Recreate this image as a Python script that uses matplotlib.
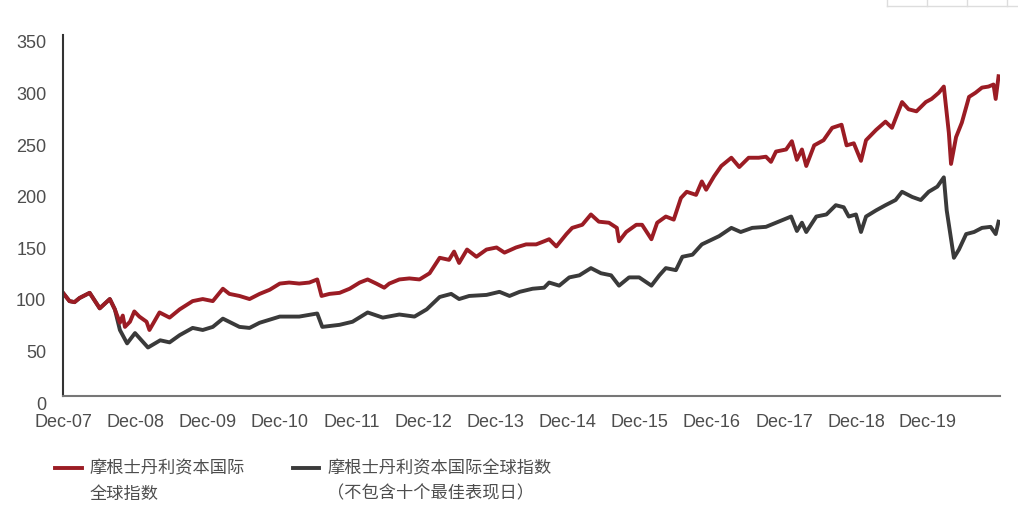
import matplotlib
matplotlib.use('Agg')
import matplotlib.pyplot as plt
import matplotlib.transforms as mtransforms
from matplotlib.lines import Line2D

# index level (x in decimal years)
red_x = [2007.91, 2008.00, 2008.07, 2008.14, 2008.28, 2008.42, 2008.56, 2008.63, 2008.70, 2008.74,
         2008.77, 2008.84, 2008.90, 2008.97, 2009.07, 2009.11, 2009.25, 2009.39, 2009.53, 2009.71,
         2009.85, 2009.99, 2010.13, 2010.22, 2010.36, 2010.50, 2010.64, 2010.78, 2010.92, 2011.05,
         2011.19, 2011.33, 2011.44, 2011.50, 2011.61, 2011.75, 2011.89, 2012.03, 2012.14, 2012.26,
         2012.37, 2012.44, 2012.58, 2012.72, 2012.86, 2013.00, 2013.14, 2013.27, 2013.34, 2013.41,
         2013.52, 2013.65, 2013.79, 2013.93, 2014.04, 2014.20, 2014.34, 2014.48, 2014.59, 2014.66,
         2014.76, 2014.90, 2014.98, 2015.12, 2015.24, 2015.35, 2015.49, 2015.60, 2015.63, 2015.73,
         2015.87, 2015.95, 2016.08, 2016.16, 2016.28, 2016.39, 2016.49, 2016.57, 2016.70, 2016.78,
         2016.84, 2016.95, 2017.05, 2017.19, 2017.30, 2017.43, 2017.57, 2017.67, 2017.74, 2017.81,
         2017.95, 2018.03, 2018.10, 2018.17, 2018.23, 2018.34, 2018.47, 2018.59, 2018.72, 2018.79,
         2018.89, 2018.99, 2019.06, 2019.20, 2019.33, 2019.42, 2019.56, 2019.65, 2019.76, 2019.89,
         2019.97, 2020.07, 2020.14, 2020.21, 2020.24, 2020.31, 2020.39, 2020.49, 2020.58, 2020.67,
         2020.76, 2020.83, 2020.86, 2020.90]
red_y = [100, 92, 91, 95, 100, 85, 94, 84, 71, 78,
         67, 72, 82, 77, 72, 64, 81, 76, 84, 92,
         94, 92, 104, 99, 97, 94, 99, 103, 109, 110,
         109, 110, 113, 97, 99, 100, 104, 110, 113, 109,
         105, 109, 113, 114, 113, 119, 134, 132, 140, 129,
         142, 135, 142, 144, 139, 144, 147, 147, 150, 152,
         145, 157, 163, 166, 176, 169, 168, 163, 150, 159,
         166, 166, 152, 168, 174, 171, 192, 198, 195, 208,
         200, 213, 223, 231, 222, 231, 231, 232, 227, 237,
         239, 247, 229, 239, 223, 243, 248, 260, 263, 243,
         245, 228, 248, 258, 266, 260, 285, 278, 276, 285,
         288, 294, 300, 255, 225, 251, 265, 290, 294, 299,
         300, 302, 288, 310]

dark_x = [2007.91, 2008.00, 2008.07, 2008.14, 2008.28, 2008.42, 2008.56, 2008.63, 2008.70, 2008.80,
          2008.91, 2009.09, 2009.26, 2009.39, 2009.53, 2009.71, 2009.85, 2009.99, 2010.13, 2010.36,
          2010.50, 2010.64, 2010.78, 2010.92, 2011.19, 2011.44, 2011.51, 2011.75, 2011.93, 2012.14,
          2012.35, 2012.58, 2012.79, 2012.96, 2013.14, 2013.30, 2013.41, 2013.55, 2013.79, 2013.97,
          2014.11, 2014.25, 2014.43, 2014.59, 2014.66, 2014.80, 2014.94, 2015.08, 2015.24, 2015.38,
          2015.52, 2015.63, 2015.77, 2015.91, 2016.08, 2016.19, 2016.28, 2016.42, 2016.51, 2016.65,
          2016.78, 2017.02, 2017.19, 2017.32, 2017.48, 2017.67, 2017.81, 2018.02, 2018.10, 2018.17,
          2018.23, 2018.37, 2018.51, 2018.64, 2018.75, 2018.82, 2018.92, 2018.99, 2019.06, 2019.20,
          2019.33, 2019.47, 2019.56, 2019.70, 2019.82, 2019.93, 2020.05, 2020.14, 2020.18, 2020.28,
          2020.35, 2020.45, 2020.56, 2020.67, 2020.79, 2020.86, 2020.90]
dark_y = [100, 92, 91, 95, 100, 85, 94, 84, 64, 51,
          61, 47, 54, 52, 59, 66, 64, 67, 75, 67,
          66, 71, 74, 77, 77, 80, 67, 69, 72, 81,
          76, 79, 77, 84, 96, 99, 94, 97, 98, 101,
          97, 101, 104, 105, 110, 107, 115, 117, 124, 119,
          117, 107, 115, 115, 107, 117, 124, 122, 135, 137,
          147, 155, 163, 159, 163, 164, 168, 174, 160, 168,
          159, 174, 176, 185, 183, 174, 176, 159, 174, 180,
          185, 190, 198, 193, 190, 198, 203, 212, 180, 134,
          142, 157, 159, 163, 164, 157, 169]

tick_years = [2007.92 + i for i in range(13)]
tick_labels = ['Dec-%02d' % (7 + i) for i in range(13)]
y_ticks = [0, 50, 100, 150, 200, 250, 300, 350]

red_label = '摩根士丹利资本国际\n全球指数'
dark_label = '摩根士丹利资本国际全球指数\n（不包含十个最佳表现日）'

RED = '#9b1c24'
DARK = '#3a3a3a'
TXT = '#4d4d4d'

plt.rcParams['font.family'] = ['Liberation Sans', 'DejaVu Sans']

fig = plt.figure(figsize=(10.18, 5.19), dpi=100)
ax = fig.add_axes([63 / 1018, 1 - 396 / 519, (1000 - 63) / 1018, (396 - 35) / 519])

ax.plot(dark_x, dark_y, color=DARK, lw=2.8, solid_joinstyle='round')
ax.plot(red_x, red_y, color=RED, lw=2.8, solid_joinstyle='round')

ax.set_xlim(2007.91, 2020.92)
ax.set_ylim(0, 350)
ax.set_xticks(tick_years)
ax.set_xticklabels(tick_labels)
ax.set_yticks(y_ticks)
ax.tick_params(axis='both', length=0, labelsize=13, colors=TXT)
ax.tick_params(axis='y', pad=12)
ax.tick_params(axis='x', pad=13)

# y labels sit a little lower than their gridline values in the original
shift = mtransforms.ScaledTranslation(0, -7 / 100, fig.dpi_scale_trans)
for lab in ax.get_yticklabels():
    lab.set_transform(lab.get_transform() + shift)

for s in ['top', 'right']:
    ax.spines[s].set_visible(False)
ax.spines['left'].set_color('#333333')
ax.spines['left'].set_linewidth(1.5)
ax.spines['bottom'].set_color('#777777')
ax.spines['bottom'].set_linewidth(1.5)

# legend drawn by hand (handle aligned to first text line)
cjk = ['Noto Sans CJK SC', 'DejaVu Sans']
fig.add_artist(Line2D([55 / 1018, 82 / 1018], [1 - 468 / 519] * 2, color=RED, lw=2.8))
fig.add_artist(Line2D([293 / 1018, 319 / 1018], [1 - 468 / 519] * 2, color=DARK, lw=2.8))
fig.text(90 / 1018, 1 - 459 / 519, red_label, family=cjk, fontsize=12.4, color=TXT,
         va='top', ha='left', linespacing=1.55)
fig.text(327 / 1018, 1 - 459 / 519, dark_label, family=cjk, fontsize=12.4, color=TXT,
         va='top', ha='left', linespacing=1.55)

# faint table edge cut off at top right of the screenshot
for xv in [887, 927, 967, 1007]:
    fig.add_artist(Line2D([xv / 1018] * 2, [1, 1 - 6 / 519], color='#dddddd', lw=1))
fig.add_artist(Line2D([887 / 1018, 1], [1 - 6 / 519] * 2, color='#dddddd', lw=1))

fig.savefig('out.png', dpi=100)
